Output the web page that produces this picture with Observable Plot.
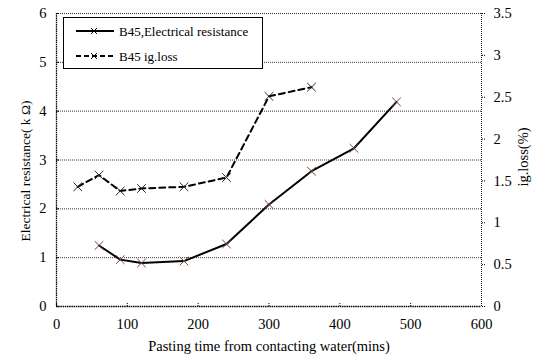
<!DOCTYPE html>
<html><head><meta charset="utf-8">
<script src="https://cdn.jsdelivr.net/npm/d3@7"></script>
<script src="https://cdn.jsdelivr.net/npm/@observablehq/plot@0.6"></script>
<style>
body{margin:0;background:#fff;}
#wrap{position:relative;width:533px;height:360px;font-family:'Liberation Serif','DejaVu Serif',serif;}
#wrap svg text{font-family:'Liberation Serif','DejaVu Serif',serif;}
#legend{position:absolute;left:63px;top:17px;width:198px;height:50px;border:1px solid #000;background:#fff;}
</style>
</head><body>
<div id="wrap"><div id="chart"></div>
<div id="legend"><svg width="198" height="50"></svg></div>
</div>
<script>
const timeRes = [60, 90, 120, 180, 240, 300, 360, 420, 480];
const resistance = [1.25, 0.96, 0.89, 0.93, 1.28, 2.09, 2.77, 3.24, 4.19];
const timeIg = [30, 60, 90, 120, 180, 240, 300, 360];
const igLoss = [1.43, 1.57, 1.38, 1.41, 1.43, 1.54, 2.51, 2.62];
const leftTicks = [0, 1, 2, 3, 4, 5, 6];
const rightTicks = [0, 0.5, 1, 1.5, 2, 2.5, 3, 3.5];
const xTicks = [0, 100, 200, 300, 400, 500, 600];
const seriesNames = ["B45,Electrical resistance", "B45 ig.loss"];
const xTitle = "Pasting time from contacting water(mins)";
const yTitle = "Electrical resistance( k Ω)";
const y2Title = "ig.loss(%)";

const serif = "'Liberation Serif','DejaVu Serif',serif";
const k = 6 / 3.5;
const resData = timeRes.map((t, i) => ({t, v: resistance[i]}));
const igData = timeIg.map((t, i) => ({t, v: igLoss[i] * k}));

const chart = Plot.plot({
  width: 533, height: 360,
  marginLeft: 56, marginRight: 52, marginTop: 13, marginBottom: 54,
  style: {fontFamily: serif, fontSize: "14px", background: "#fff", color: "#000"},
  x: {domain: [0, 600]},
  y: {domain: [0, 6]},
  marks: [
    Plot.ruleY(leftTicks.slice(1), {stroke: "#333", strokeDasharray: "1,1"}),
    Plot.ruleX([600], {stroke: "#222", strokeDasharray: "1,1"}),
    Plot.ruleX([0], {stroke: "#000", strokeDasharray: "1.5,0.7", strokeWidth: 1.3}),
    Plot.ruleY([0], {stroke: "#000", strokeDasharray: "1.5,0.7", strokeWidth: 1.3}),
    Plot.axisX(xTicks, {tickSize: -3, tickPadding: 15, fontSize: 14.5, strokeDasharray: "1,1", label: xTitle, labelAnchor: "center", labelOffset: 44, labelArrow: "none"}),
    Plot.axisY(leftTicks, {anchor: "left", tickSize: -3, tickPadding: 13, fontSize: 14.5, label: null}),
    Plot.text([yTitle], {frameAnchor: "left", textAnchor: "middle", text: d => d, rotate: -90, dx: -31, dy: 11, fontSize: 13.5}),
    Plot.axisY(rightTicks.map(d => d * k), {anchor: "right", tickSize: 3, tickPadding: 9, fontSize: 14.5, strokeDasharray: "1,1", tickFormat: d => String(+(d / k).toFixed(2)), label: null}),
    Plot.text([y2Title], {frameAnchor: "right", textAnchor: "middle", text: d => d, rotate: -90, dx: 42, dy: -3, fontSize: 14.5}),
    Plot.line(igData, {x: "t", y: "v", stroke: "#000", strokeWidth: 2, strokeDasharray: "6,4"}),
    Plot.dot(igData, {x: "t", y: "v", symbol: "times", r: 4, stroke: "#1a2a3a", strokeWidth: 1}),
    Plot.line(resData, {x: "t", y: "v", stroke: "#000", strokeWidth: 2}),
    Plot.dot(resData, {x: "t", y: "v", symbol: "times", r: 4, stroke: "#6b4a3a", strokeWidth: 1})
  ]
});
document.getElementById("chart").appendChild(chart);

// legend
const svg = d3.select("#legend svg");
const rows = [{y: 13, dash: null}, {y: 38, dash: "5,3"}];
rows.forEach((r, i) => {
  const g = svg.append("g");
  g.append("line").attr("x1", 12).attr("x2", 50).attr("y1", r.y).attr("y2", r.y)
    .attr("stroke", "#000").attr("stroke-width", 2).attr("stroke-dasharray", r.dash);
  g.append("path").attr("d", `M${27},${r.y-3}L${33},${r.y+3}M${33},${r.y-3}L${27},${r.y+3}`)
    .attr("stroke", "#000").attr("stroke-width", 1);
  g.append("text").attr("x", 55).attr("y", r.y + 4.5).text(seriesNames[i])
    .attr("font-size", 13).style("font-family", serif);
});
</script>
</body></html>
